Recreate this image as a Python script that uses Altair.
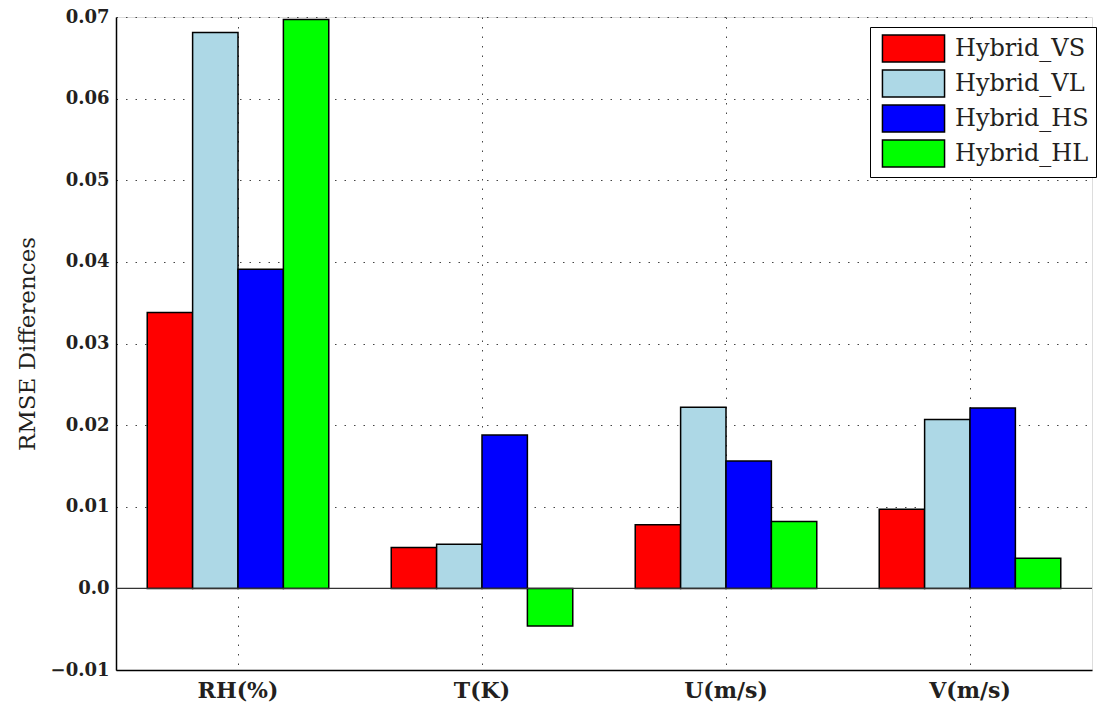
import altair as alt
import pandas as pd

# Variables on the x axis and the four hybrid configurations
categories = ["RH(%)", "T(K)", "U(m/s)", "V(m/s)"]
series = ["Hybrid_VS", "Hybrid_VL", "Hybrid_HS", "Hybrid_HL"]
colors = ["#ff0000", "#add8e6", "#0000ff", "#00ff00"]

# RMSE differences, one list per configuration (ordered as categories)
hybrid_vs = [0.0338, 0.0050, 0.0078, 0.0097]
hybrid_vl = [0.0681, 0.0054, 0.0222, 0.0207]
hybrid_hs = [0.0391, 0.0188, 0.0156, 0.0221]
hybrid_hl = [0.0697, -0.0046, 0.0082, 0.0037]

values = [hybrid_vs, hybrid_vl, hybrid_hs, hybrid_hl]
rows = []
for name, vals in zip(series, values):
    for cat, v in zip(categories, vals):
        rows.append({"variable": cat, "run": name, "rmse": v})
df = pd.DataFrame(rows)

FONT = "DejaVu Serif"
TEXT = "#231f20"
W, H = 976, 653

x = alt.X(
    "variable:N",
    sort=categories,
    scale=alt.Scale(paddingInner=0.256, paddingOuter=0.128),
    axis=alt.Axis(
        title=None,
        labelAngle=0,
        labelFont=FONT,
        labelFontSize=22,
        labelFontWeight="bold",
        labelColor=TEXT,
        labelPadding=10,
        ticks=False,
        grid=True,
        bandPosition=0.5,
        gridDash=[1.5, 8],
        gridColor="#444444",
        gridWidth=1,
        domainColor="black",
        domainWidth=1.5,
    ),
)

y = alt.Y(
    "rmse:Q",
    scale=alt.Scale(domain=[-0.01, 0.07], nice=False, zero=False),
    axis=alt.Axis(
        title="RMSE Differences",
        titleFont=FONT,
        titleFontSize=23,
        titleFontWeight="normal",
        titleColor=TEXT,
        titlePadding=11,
        values=[-0.01, 0.0, 0.01, 0.02, 0.03, 0.04, 0.05, 0.06, 0.07],
        labelExpr="datum.value == 0 ? '0.0' : format(datum.value, '.2f')",
        labelFont=FONT,
        labelFontSize=18,
        labelFontWeight="bold",
        labelColor=TEXT,
        labelPadding=7,
        ticks=False,
        grid=True,
        gridDash=[1.5, 8],
        gridColor="#444444",
        gridWidth=1,
        domainColor="black",
        domainWidth=1.5,
    ),
)

bars = alt.Chart(df).mark_bar(stroke="black", strokeWidth=1.5).encode(
    x=x,
    xOffset=alt.XOffset("run:N", sort=series, scale=alt.Scale(paddingInner=0, paddingOuter=0)),
    y=y,
    y2=alt.datum(0),
    color=alt.Color(
        "run:N",
        sort=series,
        scale=alt.Scale(domain=series, range=colors),
        legend=alt.Legend(
            title=None,
            orient="none",
            legendX=754,
            legendY=10,
            fillColor="white",
            strokeColor="black",
            padding=7,
            labelFont=FONT,
            labelFontSize=24,
            labelColor=TEXT,
            labelOffset=27,
            symbolType="M-2.3,-1L2.3,-1L2.3,1L-2.3,1Z",
            symbolSize=729,
            symbolOffset=22,
            symbolStrokeColor="black",
            symbolStrokeWidth=1.5,
            symbolOpacity=1,
            rowPadding=2,
        ),
    ),
)

zero_line = alt.Chart(pd.DataFrame({"y": [0.0]})).mark_rule(
    color="#333333", strokeWidth=1.2
).encode(y=alt.Y("y:Q", scale=alt.Scale(domain=[-0.01, 0.07], nice=False, zero=False)))

chart = (
    alt.layer(bars, zero_line)
    .properties(
        width=W,
        height=H,
        autosize=alt.AutoSizeParams(type="none"),
        padding={"left": 116, "top": 17, "right": 7, "bottom": 43},
    )
    .configure_view(stroke="black", strokeWidth=1.5)
    .configure(background="white")
)

chart.save("out.html", embed_options={"renderer": "svg", "actions": False})
